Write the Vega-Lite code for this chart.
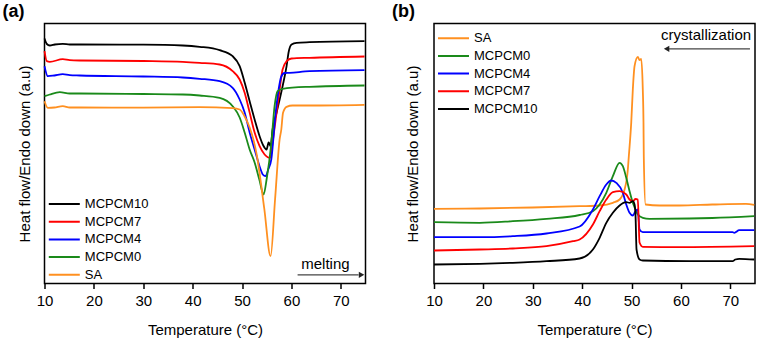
{
  "$schema": "https://vega.github.io/schema/vega-lite/v6.json",
  "padding": {"left": 1.5, "top": 1.5, "right": 2, "bottom": 2},
  "background": "white",
  "spacing": 21.5,
  "config": {
    "font": "Liberation Sans",
    "view": {"stroke": "#000000", "strokeWidth": 1.5},
    "axis": {
      "grid": false,
      "domain": false,
      "labelColor": "#000000",
      "titleColor": "#000000",
      "tickColor": "#000000",
      "labelFont": "Liberation Sans",
      "titleFont": "Liberation Sans",
      "titleFontWeight": "normal",
      "titleFontSize": 15,
      "labelFontSize": 15
    },
    "legend": {
      "padding": 0,
      "symbolType": "stroke",
      "symbolSize": 961,
      "symbolStrokeWidth": 2,
      "clipHeight": 13,
      "labelFontSize": 13,
      "labelFont": "Liberation Sans",
      "labelColor": "#000000",
      "labelOffset": 4,
      "rowPadding": 3.7,
      "title": null
    },
    "title": {"anchor": "start", "frame": "group", "fontSize": 18, "fontWeight": "bold", "font": "Liberation Sans", "color": "#000000", "dx": -42, "offset": 3}
  },
  "datasets": {
    "melting": [
      {"sample": "MCPCM10", "T": 10.0, "hf": 245}, {"sample": "MCPCM10", "T": 10.47, "hf": 239.5}, {"sample": "MCPCM10", "T": 11.07, "hf": 238}, {"sample": "MCPCM10", "T": 12.08, "hf": 239}, {"sample": "MCPCM10", "T": 13.7, "hf": 239.7}, {"sample": "MCPCM10", "T": 15.12, "hf": 239}, {"sample": "MCPCM10", "T": 17.14, "hf": 239}, {"sample": "MCPCM10", "T": 30, "hf": 238.8}, {"sample": "MCPCM10", "T": 38, "hf": 238}, {"sample": "MCPCM10", "T": 41.42, "hf": 236.7}, {"sample": "MCPCM10", "T": 45.47, "hf": 233.3}, {"sample": "MCPCM10", "T": 48.1, "hf": 227.3}, {"sample": "MCPCM10", "T": 49.52, "hf": 217.3}, {"sample": "MCPCM10", "T": 50.53, "hf": 201}, {"sample": "MCPCM10", "T": 51.54, "hf": 182.3}, {"sample": "MCPCM10", "T": 52.55, "hf": 164}, {"sample": "MCPCM10", "T": 53.56, "hf": 147.3}, {"sample": "MCPCM10", "T": 54.3, "hf": 138}, {"sample": "MCPCM10", "T": 54.97, "hf": 134}, {"sample": "MCPCM10", "T": 55.38, "hf": 141}, {"sample": "MCPCM10", "T": 55.78, "hf": 137.3}, {"sample": "MCPCM10", "T": 56.19, "hf": 154}, {"sample": "MCPCM10", "T": 57.0, "hf": 171}, {"sample": "MCPCM10", "T": 58.21, "hf": 197.3}, {"sample": "MCPCM10", "T": 59.02, "hf": 217.3}, {"sample": "MCPCM10", "T": 59.42, "hf": 231}, {"sample": "MCPCM10", "T": 60.03, "hf": 239}, {"sample": "MCPCM10", "T": 61.04, "hf": 240.7}, {"sample": "MCPCM10", "T": 63.67, "hf": 241.3}, {"sample": "MCPCM10", "T": 74.8, "hf": 242.3},

      {"sample": "MCPCM7", "T": 10.0, "hf": 232.3}, {"sample": "MCPCM7", "T": 10.47, "hf": 222.3}, {"sample": "MCPCM7", "T": 11.07, "hf": 221.7}, {"sample": "MCPCM7", "T": 13.7, "hf": 224.3}, {"sample": "MCPCM7", "T": 15.12, "hf": 223.3}, {"sample": "MCPCM7", "T": 17.14, "hf": 223}, {"sample": "MCPCM7", "T": 30, "hf": 222.5}, {"sample": "MCPCM7", "T": 38, "hf": 221.7}, {"sample": "MCPCM7", "T": 41.42, "hf": 220.7}, {"sample": "MCPCM7", "T": 45.47, "hf": 219}, {"sample": "MCPCM7", "T": 48.1, "hf": 212.3}, {"sample": "MCPCM7", "T": 49.52, "hf": 204}, {"sample": "MCPCM7", "T": 50.53, "hf": 190.7}, {"sample": "MCPCM7", "T": 51.54, "hf": 171}, {"sample": "MCPCM7", "T": 52.55, "hf": 151}, {"sample": "MCPCM7", "T": 53.56, "hf": 137.3}, {"sample": "MCPCM7", "T": 54.57, "hf": 129}, {"sample": "MCPCM7", "T": 55.2, "hf": 126.3}, {"sample": "MCPCM7", "T": 55.72, "hf": 125.7}, {"sample": "MCPCM7", "T": 56.19, "hf": 141}, {"sample": "MCPCM7", "T": 57.0, "hf": 171}, {"sample": "MCPCM7", "T": 57.61, "hf": 194}, {"sample": "MCPCM7", "T": 58.21, "hf": 214}, {"sample": "MCPCM7", "T": 59.02, "hf": 222.3}, {"sample": "MCPCM7", "T": 60.03, "hf": 225}, {"sample": "MCPCM7", "T": 63.67, "hf": 225.7}, {"sample": "MCPCM7", "T": 74.8, "hf": 227},

      {"sample": "MCPCM4", "T": 10.0, "hf": 217.3}, {"sample": "MCPCM4", "T": 10.67, "hf": 207.3}, {"sample": "MCPCM4", "T": 12.0, "hf": 208}, {"sample": "MCPCM4", "T": 13.7, "hf": 209.3}, {"sample": "MCPCM4", "T": 15.12, "hf": 208.3}, {"sample": "MCPCM4", "T": 17.14, "hf": 208}, {"sample": "MCPCM4", "T": 30, "hf": 207}, {"sample": "MCPCM4", "T": 38, "hf": 206}, {"sample": "MCPCM4", "T": 41.42, "hf": 204.7}, {"sample": "MCPCM4", "T": 45.47, "hf": 202.3}, {"sample": "MCPCM4", "T": 48.1, "hf": 195.7}, {"sample": "MCPCM4", "T": 49.52, "hf": 184}, {"sample": "MCPCM4", "T": 50.53, "hf": 171}, {"sample": "MCPCM4", "T": 51.54, "hf": 151}, {"sample": "MCPCM4", "T": 52.55, "hf": 134}, {"sample": "MCPCM4", "T": 53.56, "hf": 117}, {"sample": "MCPCM4", "T": 54.2, "hf": 109}, {"sample": "MCPCM4", "T": 54.77, "hf": 107.3}, {"sample": "MCPCM4", "T": 55.3, "hf": 114}, {"sample": "MCPCM4", "T": 55.92, "hf": 124}, {"sample": "MCPCM4", "T": 56.79, "hf": 170}, {"sample": "MCPCM4", "T": 57.61, "hf": 200}, {"sample": "MCPCM4", "T": 57.95, "hf": 207}, {"sample": "MCPCM4", "T": 58.61, "hf": 210.5}, {"sample": "MCPCM4", "T": 59.63, "hf": 210.7}, {"sample": "MCPCM4", "T": 63.67, "hf": 212.3}, {"sample": "MCPCM4", "T": 74.8, "hf": 213.3},

      {"sample": "MCPCM0", "T": 10.0, "hf": 187.3}, {"sample": "MCPCM0", "T": 11.07, "hf": 189}, {"sample": "MCPCM0", "T": 13.1, "hf": 191.3}, {"sample": "MCPCM0", "T": 15.12, "hf": 190}, {"sample": "MCPCM0", "T": 17.14, "hf": 190}, {"sample": "MCPCM0", "T": 30, "hf": 189.5}, {"sample": "MCPCM0", "T": 38, "hf": 189}, {"sample": "MCPCM0", "T": 41.42, "hf": 188}, {"sample": "MCPCM0", "T": 45.47, "hf": 185.7}, {"sample": "MCPCM0", "T": 48.1, "hf": 177.3}, {"sample": "MCPCM0", "T": 49.52, "hf": 166}, {"sample": "MCPCM0", "T": 50.53, "hf": 151}, {"sample": "MCPCM0", "T": 51.54, "hf": 134}, {"sample": "MCPCM0", "T": 52.55, "hf": 121}, {"sample": "MCPCM0", "T": 53.5, "hf": 104}, {"sample": "MCPCM0", "T": 54.37, "hf": 89}, {"sample": "MCPCM0", "T": 55.0, "hf": 105}, {"sample": "MCPCM0", "T": 55.92, "hf": 140}, {"sample": "MCPCM0", "T": 56.59, "hf": 177.3}, {"sample": "MCPCM0", "T": 57.2, "hf": 192.3}, {"sample": "MCPCM0", "T": 58.21, "hf": 194.7}, {"sample": "MCPCM0", "T": 63.67, "hf": 196.7}, {"sample": "MCPCM0", "T": 74.8, "hf": 198},

      {"sample": "SA", "T": 10.0, "hf": 182.3}, {"sample": "SA", "T": 10.67, "hf": 175.7}, {"sample": "SA", "T": 12.0, "hf": 176}, {"sample": "SA", "T": 13.7, "hf": 177.3}, {"sample": "SA", "T": 15.12, "hf": 176}, {"sample": "SA", "T": 17.14, "hf": 176}, {"sample": "SA", "T": 30, "hf": 175.8}, {"sample": "SA", "T": 41.42, "hf": 176.3}, {"sample": "SA", "T": 48.1, "hf": 175.3}, {"sample": "SA", "T": 49.52, "hf": 174}, {"sample": "SA", "T": 50.53, "hf": 167}, {"sample": "SA", "T": 51.54, "hf": 156}, {"sample": "SA", "T": 52.3, "hf": 144}, {"sample": "SA", "T": 53.0, "hf": 128}, {"sample": "SA", "T": 54.5, "hf": 75}, {"sample": "SA", "T": 55.78, "hf": 27.3}, {"sample": "SA", "T": 56.7, "hf": 85}, {"sample": "SA", "T": 57.61, "hf": 144}, {"sample": "SA", "T": 57.95, "hf": 154}, {"sample": "SA", "T": 58.3, "hf": 170.7}, {"sample": "SA", "T": 59.02, "hf": 176.7}, {"sample": "SA", "T": 60.23, "hf": 178}, {"sample": "SA", "T": 63.67, "hf": 178}, {"sample": "SA", "T": 74.8, "hf": 178.7}
    ],
    "crystallization": [
      {"sample": "SA", "T": 10.0, "hf": 74.7}, {"sample": "SA", "T": 19.29, "hf": 75}, {"sample": "SA", "T": 30, "hf": 76}, {"sample": "SA", "T": 39.49, "hf": 77.3}, {"sample": "SA", "T": 43.54, "hf": 78}, {"sample": "SA", "T": 46.22, "hf": 80.7}, {"sample": "SA", "T": 47.58, "hf": 84}, {"sample": "SA", "T": 48.59, "hf": 94}, {"sample": "SA", "T": 49.25, "hf": 114}, {"sample": "SA", "T": 49.45, "hf": 127.3}, {"sample": "SA", "T": 49.94, "hf": 161}, {"sample": "SA", "T": 50.26, "hf": 194}, {"sample": "SA", "T": 50.61, "hf": 217.3}, {"sample": "SA", "T": 51.27, "hf": 226.7}, {"sample": "SA", "T": 51.62, "hf": 223.3}, {"sample": "SA", "T": 51.96, "hf": 224.7}, {"sample": "SA", "T": 52.28, "hf": 194}, {"sample": "SA", "T": 52.42, "hf": 161}, {"sample": "SA", "T": 52.48, "hf": 127.3}, {"sample": "SA", "T": 52.83, "hf": 79}, {"sample": "SA", "T": 55.66, "hf": 78}, {"sample": "SA", "T": 59.7, "hf": 78}, {"sample": "SA", "T": 66.36, "hf": 79}, {"sample": "SA", "T": 73.17, "hf": 79.7}, {"sample": "SA", "T": 74.85, "hf": 78.7},

      {"sample": "MCPCM0", "T": 10.0, "hf": 61.3}, {"sample": "MCPCM0", "T": 19.29, "hf": 60.7}, {"sample": "MCPCM0", "T": 25.96, "hf": 62.3}, {"sample": "MCPCM0", "T": 32.77, "hf": 64.7}, {"sample": "MCPCM0", "T": 39.49, "hf": 68.5}, {"sample": "MCPCM0", "T": 42.18, "hf": 72.3}, {"sample": "MCPCM0", "T": 43.54, "hf": 79}, {"sample": "MCPCM0", "T": 44.89, "hf": 90.7}, {"sample": "MCPCM0", "T": 46.22, "hf": 107.3}, {"sample": "MCPCM0", "T": 47.58, "hf": 120.7}, {"sample": "MCPCM0", "T": 48.24, "hf": 117.3}, {"sample": "MCPCM0", "T": 48.93, "hf": 105.7}, {"sample": "MCPCM0", "T": 49.6, "hf": 92.3}, {"sample": "MCPCM0", "T": 50.26, "hf": 80.7}, {"sample": "MCPCM0", "T": 50.81, "hf": 74}, {"sample": "MCPCM0", "T": 51.27, "hf": 69}, {"sample": "MCPCM0", "T": 52.28, "hf": 65.7}, {"sample": "MCPCM0", "T": 53.64, "hf": 64.7}, {"sample": "MCPCM0", "T": 61.72, "hf": 65}, {"sample": "MCPCM0", "T": 66.36, "hf": 65.5}, {"sample": "MCPCM0", "T": 74.85, "hf": 67.3},

      {"sample": "MCPCM4", "T": 10.0, "hf": 46.3}, {"sample": "MCPCM4", "T": 19.29, "hf": 46.3}, {"sample": "MCPCM4", "T": 25.96, "hf": 47.3}, {"sample": "MCPCM4", "T": 32.77, "hf": 50}, {"sample": "MCPCM4", "T": 39.49, "hf": 57}, {"sample": "MCPCM4", "T": 42.18, "hf": 74}, {"sample": "MCPCM4", "T": 43.54, "hf": 87.3}, {"sample": "MCPCM4", "T": 44.89, "hf": 99}, {"sample": "MCPCM4", "T": 45.9, "hf": 103}, {"sample": "MCPCM4", "T": 46.91, "hf": 100.7}, {"sample": "MCPCM4", "T": 48.24, "hf": 90.7}, {"sample": "MCPCM4", "T": 48.93, "hf": 79}, {"sample": "MCPCM4", "T": 49.6, "hf": 70.7}, {"sample": "MCPCM4", "T": 50.26, "hf": 68}, {"sample": "MCPCM4", "T": 50.81, "hf": 72.3}, {"sample": "MCPCM4", "T": 51.27, "hf": 74}, {"sample": "MCPCM4", "T": 51.62, "hf": 54}, {"sample": "MCPCM4", "T": 52.28, "hf": 51.3}, {"sample": "MCPCM4", "T": 61.72, "hf": 51.3}, {"sample": "MCPCM4", "T": 70.46, "hf": 51.3}, {"sample": "MCPCM4", "T": 70.81, "hf": 50.7}, {"sample": "MCPCM4", "T": 71.82, "hf": 53.3}, {"sample": "MCPCM4", "T": 74.85, "hf": 53.3},

      {"sample": "MCPCM7", "T": 10.0, "hf": 33}, {"sample": "MCPCM7", "T": 19.29, "hf": 34}, {"sample": "MCPCM7", "T": 25.96, "hf": 35}, {"sample": "MCPCM7", "T": 32.77, "hf": 37.3}, {"sample": "MCPCM7", "T": 38.14, "hf": 42.3}, {"sample": "MCPCM7", "T": 39.49, "hf": 44}, {"sample": "MCPCM7", "T": 42.18, "hf": 59}, {"sample": "MCPCM7", "T": 43.54, "hf": 72.3}, {"sample": "MCPCM7", "T": 44.89, "hf": 84}, {"sample": "MCPCM7", "T": 46.22, "hf": 91.3}, {"sample": "MCPCM7", "T": 47.58, "hf": 92.3}, {"sample": "MCPCM7", "T": 48.93, "hf": 89}, {"sample": "MCPCM7", "T": 49.6, "hf": 84}, {"sample": "MCPCM7", "T": 50.26, "hf": 82.3}, {"sample": "MCPCM7", "T": 50.81, "hf": 84.5}, {"sample": "MCPCM7", "T": 51.27, "hf": 84}, {"sample": "MCPCM7", "T": 51.62, "hf": 41}, {"sample": "MCPCM7", "T": 52.28, "hf": 36.7}, {"sample": "MCPCM7", "T": 59.7, "hf": 36.3}, {"sample": "MCPCM7", "T": 74.85, "hf": 37.3},

      {"sample": "MCPCM10", "T": 10.0, "hf": 19}, {"sample": "MCPCM10", "T": 19.29, "hf": 19.7}, {"sample": "MCPCM10", "T": 25.96, "hf": 20.7}, {"sample": "MCPCM10", "T": 32.77, "hf": 22.3}, {"sample": "MCPCM10", "T": 39.49, "hf": 25}, {"sample": "MCPCM10", "T": 42.18, "hf": 34}, {"sample": "MCPCM10", "T": 43.54, "hf": 45.7}, {"sample": "MCPCM10", "T": 44.89, "hf": 60.7}, {"sample": "MCPCM10", "T": 46.22, "hf": 70.7}, {"sample": "MCPCM10", "T": 47.58, "hf": 78}, {"sample": "MCPCM10", "T": 48.93, "hf": 81.3}, {"sample": "MCPCM10", "T": 49.6, "hf": 80.7}, {"sample": "MCPCM10", "T": 50.26, "hf": 82.3}, {"sample": "MCPCM10", "T": 50.61, "hf": 79}, {"sample": "MCPCM10", "T": 50.81, "hf": 67.3}, {"sample": "MCPCM10", "T": 51.01, "hf": 34}, {"sample": "MCPCM10", "T": 51.62, "hf": 24}, {"sample": "MCPCM10", "T": 52.28, "hf": 23}, {"sample": "MCPCM10", "T": 61.72, "hf": 22.3}, {"sample": "MCPCM10", "T": 70.46, "hf": 22.3}, {"sample": "MCPCM10", "T": 71.01, "hf": 24}, {"sample": "MCPCM10", "T": 71.82, "hf": 24.7}, {"sample": "MCPCM10", "T": 74.85, "hf": 24}
    ],
    "meltNote": [{"label": "melting", "T": 66.88, "hf": 20, "from": 61.25, "to": 73.6, "tip": 74.2, "ahf": 8.7}],
    "crystNote": [{"label": "crystallization", "T": 65.09, "hf": 249, "from": 57.6, "to": 73.98, "tip": 57.1, "ahf": 234.7}]
  },
  "hconcat": [
    {
      "width": 321,
      "height": 260,
      "title": {"text": "(a)"},
      "layer": [
        {
          "data": {"name": "melting"},
          "mark": {"type": "line", "strokeWidth": 1.8, "interpolate": "monotone"},
          "encoding": {
            "x": {
              "field": "T", "type": "quantitative",
              "scale": {"domain": [10, 75], "nice": false, "zero": false},
              "axis": {
                "title": "Temperature (°C)",
                "values": [10, 15, 20, 25, 30, 35, 40, 45, 50, 55, 60, 65, 70, 75],
                "labelExpr": "datum.value % 10 === 0 ? datum.label : ''",
                "labelFlush": false, "labelOverlap": false,
                "tickSize": {"condition": {"test": "datum.value % 10 === 0", "value": 5}, "value": 3},
                "tickWidth": 1.5, "labelPadding": 5, "titlePadding": 14
              }
            },
            "y": {
              "field": "hf", "type": "quantitative",
              "scale": {"domain": [0, 260], "nice": false, "zero": false},
              "axis": {"title": "Heat flow/Endo down (a.u)", "ticks": false, "labels": false, "titlePadding": 12}
            },
            "color": {
              "field": "sample", "type": "nominal",
              "scale": {"domain": ["MCPCM10", "MCPCM7", "MCPCM4", "MCPCM0", "SA"], "range": ["#000000", "#ff0000", "#0000ff", "#1a8a1a", "#ff9020"]},
              "legend": {"orient": "none", "legendX": 3.3, "legendY": 174}
            }
          }
        },
        {
          "data": {"name": "meltNote"},
          "mark": {"type": "text", "fontSize": 15, "font": "Liberation Sans", "color": "#000000", "align": "center", "baseline": "middle"},
          "encoding": {
            "x": {"field": "T", "type": "quantitative"},
            "y": {"field": "hf", "type": "quantitative"},
            "text": {"field": "label"}
          }
        },
        {
          "data": {"name": "meltNote"},
          "mark": {"type": "rule", "color": "#444444", "strokeWidth": 1.2},
          "encoding": {
            "x": {"field": "from", "type": "quantitative"},
            "x2": {"field": "to"},
            "y": {"field": "ahf", "type": "quantitative"}
          }
        },
        {
          "data": {"name": "meltNote"},
          "mark": {"type": "point", "shape": "triangle-right", "filled": true, "size": 40, "color": "#222222", "opacity": 1},
          "encoding": {
            "x": {"field": "tip", "type": "quantitative"},
            "y": {"field": "ahf", "type": "quantitative"}
          }
        }
      ]
    },
    {
      "width": 321,
      "height": 260,
      "title": {"text": "(b)"},
      "layer": [
        {
          "data": {"name": "crystallization"},
          "mark": {"type": "line", "strokeWidth": 1.8, "interpolate": "monotone"},
          "encoding": {
            "x": {
              "field": "T", "type": "quantitative",
              "scale": {"domain": [10, 75], "nice": false, "zero": false},
              "axis": {
                "title": "Temperature (°C)",
                "values": [10, 15, 20, 25, 30, 35, 40, 45, 50, 55, 60, 65, 70, 75],
                "labelExpr": "datum.value % 10 === 0 ? datum.label : ''",
                "labelFlush": false, "labelOverlap": false,
                "tickSize": {"condition": {"test": "datum.value % 10 === 0", "value": 5}, "value": 3},
                "tickWidth": 1.5, "labelPadding": 5, "titlePadding": 14
              }
            },
            "y": {
              "field": "hf", "type": "quantitative",
              "scale": {"domain": [0, 260], "nice": false, "zero": false},
              "axis": {"title": "Heat flow/Endo down (a.u)", "ticks": false, "labels": false, "titlePadding": 14}
            },
            "color": {
              "field": "sample", "type": "nominal",
              "scale": {"domain": ["SA", "MCPCM0", "MCPCM4", "MCPCM7", "MCPCM10"], "range": ["#ff9020", "#1a8a1a", "#0000ff", "#ff0000", "#000000"]},
              "legend": {"orient": "none", "legendX": 3, "legendY": 8.2}
            }
          }
        },
        {
          "data": {"name": "crystNote"},
          "mark": {"type": "text", "fontSize": 15, "font": "Liberation Sans", "color": "#000000", "align": "center", "baseline": "middle"},
          "encoding": {
            "x": {"field": "T", "type": "quantitative"},
            "y": {"field": "hf", "type": "quantitative"},
            "text": {"field": "label"}
          }
        },
        {
          "data": {"name": "crystNote"},
          "mark": {"type": "rule", "color": "#444444", "strokeWidth": 1.2},
          "encoding": {
            "x": {"field": "from", "type": "quantitative"},
            "x2": {"field": "to"},
            "y": {"field": "ahf", "type": "quantitative"}
          }
        },
        {
          "data": {"name": "crystNote"},
          "mark": {"type": "point", "shape": "triangle-left", "filled": true, "size": 40, "color": "#222222", "opacity": 1},
          "encoding": {
            "x": {"field": "tip", "type": "quantitative"},
            "y": {"field": "ahf", "type": "quantitative"}
          }
        }
      ]
    }
  ],
  "resolve": {"scale": {"color": "independent"}, "legend": {"color": "independent"}}
}
